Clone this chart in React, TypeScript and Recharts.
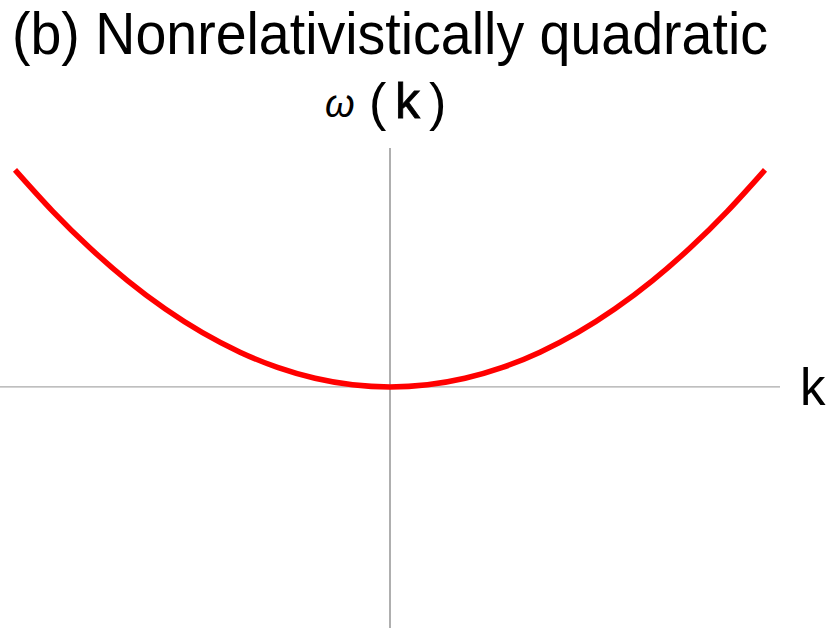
import React from "react";
import { LineChart, Line, XAxis, YAxis, ReferenceLine } from "recharts";

// wave number k (dimensionless)
const kValues = [-1, -0.9, -0.8, -0.7, -0.6, -0.5, -0.4, -0.3, -0.2, -0.1, 0, 0.1, 0.2, 0.3, 0.4, 0.5, 0.6, 0.7, 0.8, 0.9, 1];
// omega(k)
const omegaValues = [1.0, 0.81, 0.64, 0.49, 0.36, 0.25, 0.16, 0.09, 0.04, 0.01, 0, 0.01, 0.04, 0.09, 0.16, 0.25, 0.36, 0.49, 0.64, 0.81, 1.0];

const titleText = "(b) Nonrelativistically quadratic";
const yLabelParts = ["ω", "(", "k", ")"];
const xLabel = "k";

const data = kValues.map((k, i) => ({ k, w: omegaValues[i] }));

const FONT = "'Liberation Sans', Arial, Helvetica, sans-serif";

export default function App() {
  return (
    <div style={{ position: "absolute", left: 0, top: 0, width: 830, height: 631, background: "#fff" }}>
      <LineChart width={830} height={631} data={data} margin={{ top: 148, right: 50, bottom: 3, left: 0 }}>
        <XAxis dataKey="k" type="number" domain={[-1.04, 1.04]} hide allowDataOverflow />
        <YAxis type="number" domain={[-1.111, 1.101]} hide allowDataOverflow />
        <ReferenceLine x={0} stroke="#7a7a7a" strokeWidth={1.2} />
        <ReferenceLine y={0} stroke="#aaaaaa" strokeWidth={1.2} />
        <Line dataKey="w" type="natural" stroke="#ff0000" strokeWidth={5.5} dot={false} isAnimationActive={false} />
      </LineChart>
      <svg width={830} height={631} style={{ position: "absolute", left: 0, top: 0, pointerEvents: "none" }}>
        <text x={390} y={54} textAnchor="middle" fontFamily={FONT} fontSize={59} fill="#000" textLength={756} lengthAdjust="spacingAndGlyphs">
          {titleText}
        </text>
        <text x={325} y={117} fontFamily={FONT} fontSize={38} fontStyle="italic" fill="#000" fontWeight={300}>
          {yLabelParts[0]}
        </text>
        <text x={369} y={120} fontFamily={FONT} fontSize={52} fill="#000" fontWeight={300}>
          {yLabelParts[1]}
        </text>
        <text x={395} y={118} fontFamily={FONT} fontSize={50} fill="#000" stroke="#000" strokeWidth={0.8}>
          {yLabelParts[2]}
        </text>
        <text x={429} y={120} fontFamily={FONT} fontSize={52} fill="#000" fontWeight={300}>
          {yLabelParts[3]}
        </text>
        <text x={800} y={405} fontFamily={FONT} fontSize={51} fill="#000">
          {xLabel}
        </text>
      </svg>
    </div>
  );
}
